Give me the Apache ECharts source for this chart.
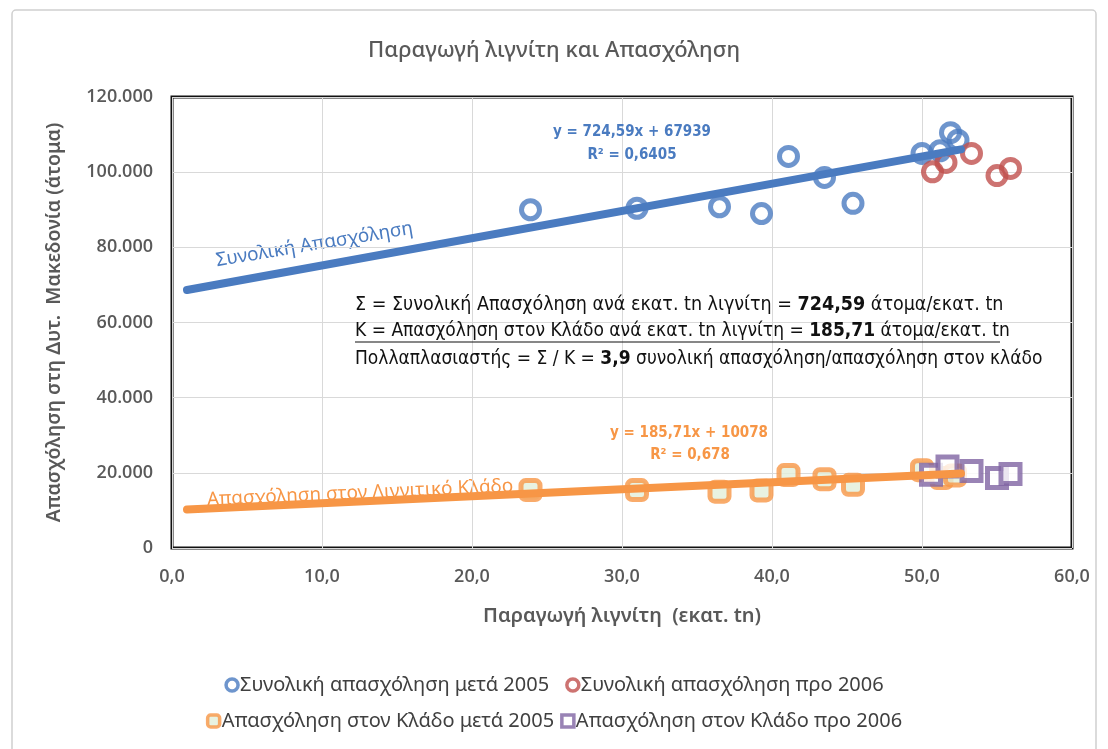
<!DOCTYPE html>
<html>
<head>
<meta charset="utf-8">
<script src="https://cdn.jsdelivr.net/npm/echarts@6/dist/echarts.min.js"></script>
<style>
  html, body { margin: 0; padding: 0; background: #fff; }
  #chart { width: 1108px; height: 749px; }
</style>
</head>
<body>
<div id="chart"></div>
<script>
// Συνολική απασχόληση (κύκλοι) - [παραγωγή εκατ. tn, άτομα]
var totalAfter2005 = [
  [23.9, 90000], [31.0, 90400], [36.5, 90800], [39.3, 89000], [41.1, 104200],
  [43.5, 98600], [45.4, 91700], [50.0, 105000], [51.2, 105700], [51.9, 110500], [52.4, 108500]
];
var totalBefore2006 = [
  [50.7, 100100], [51.6, 102600], [53.3, 105000], [55.0, 99100], [55.9, 101000]
];
// Απασχόληση στον κλάδο (τετράγωνα)
var sectorAfter2005 = [
  [23.9, 15400], [31.0, 15400], [36.5, 15000], [39.3, 15300], [41.1, 19400],
  [43.5, 18300], [45.4, 16800], [50.0, 20700], [51.3, 18600], [52.2, 19300]
];
var sectorBefore2006 = [
  [50.6, 19500], [51.7, 21700], [53.3, 20500], [55.0, 18600], [55.9, 19700]
];
// γραμμές τάσης (άκρα)
var trendTotal = [[1, 68660], [52.6, 106050]];
var trendSector = [[1, 10260], [52.6, 19850]];

var xTicks = [0, 10, 20, 30, 40, 50, 60];
var yTicks = [0, 20000, 40000, 60000, 80000, 100000, 120000];

var seriesNames = [
  'Συνολική απασχόληση μετά 2005',
  'Συνολική απασχόληση προ 2006',
  'Απασχόληση στον Κλάδο μετά 2005',
  'Απασχόληση στον Κλάδο προ 2006'
];

var BLUE = '#4a7bc0', RED = '#c0504d', ORANGE = '#f79646', PURPLE = '#8064a2';
var GRAY = '#595959';
var NARROW = "'Liberation Sans Narrow', 'DejaVu Sans Condensed', sans-serif";

var myChart = echarts.init(document.getElementById('chart'));

myChart.setOption({
  backgroundColor: '#fff',
  animation: false,
  title: {
    text: 'Παραγωγή λιγνίτη και Απασχόληση',
    left: 'center',
    top: 35,
    textStyle: { fontFamily: 'Noto Sans', fontSize: 22, fontWeight: 500, color: GRAY }
  },
  legend: [
    {
      data: [seriesNames[0], seriesNames[1]],
      left: 'center', top: 670, itemGap: 16,
      itemWidth: 12, itemHeight: 12,
      itemStyle: { borderWidth: 3.5 },
      textStyle: { fontFamily: 'Noto Sans', fontSize: 20, color: '#404040', padding: [0, 0, 0, -3] }
    },
    {
      data: [seriesNames[2], seriesNames[3]],
      left: 'center', top: 706, itemGap: 6,
      itemWidth: 12, itemHeight: 12,
      itemStyle: { borderWidth: 3.5 },
      textStyle: { fontFamily: 'Noto Sans', fontSize: 20, color: '#404040', padding: [0, 0, 0, -3] }
    }
  ],
  grid: {
    left: 172, top: 97, right: 36, bottom: 201,
    show: true, borderColor: '#111', borderWidth: 3
  },
  xAxis: {
    type: 'value', min: xTicks[0], max: xTicks[xTicks.length - 1], interval: 10,
    name: 'Παραγωγή λιγνίτη  (εκατ. tn)',
    nameLocation: 'middle', nameGap: 58,
    nameTextStyle: { fontFamily: 'Noto Sans', fontSize: 20, fontWeight: 600, color: GRAY },
    axisLine: { show: false }, axisTick: { show: false },
    axisLabel: {
      margin: 20, fontFamily: 'Open Sans', fontSize: 18, fontWeight: 600, color: GRAY,
      formatter: function (v) { return v.toFixed(1).replace('.', ','); }
    },
    splitLine: { lineStyle: { color: '#d9d9d9', width: 1 } }
  },
  yAxis: {
    type: 'value', min: yTicks[0], max: yTicks[yTicks.length - 1], interval: 20000,
    name: 'Απασχόληση στη Δυτ.  Μακεδονία (άτομα)',
    nameLocation: 'middle', nameGap: 108, nameRotate: 90,
    nameTextStyle: { fontFamily: 'Noto Sans', fontSize: 19.5, fontWeight: 600, color: GRAY },
    axisLine: { show: false }, axisTick: { show: false },
    axisLabel: {
      margin: 19, fontFamily: 'Open Sans', fontSize: 18, fontWeight: 600, color: GRAY,
      formatter: function (v) { return v === 0 ? '0' : (v / 1000) + '.000'; }
    },
    splitLine: { lineStyle: { color: '#d9d9d9', width: 1 } }
  },
  graphic: [
    { type: 'rect', z: -10, shape: { x: 12, y: 10, width: 1084, height: 760, r: 4 },
      style: { fill: 'none', stroke: '#d0d0d0', lineWidth: 1.5 } },
    // ετικέτες γραμμών τάσης
    { type: 'text', x: 216, y: 261, rotation: 0.165, z: 0,
      style: { text: 'Συνολική Απασχόληση', fill: BLUE, font: '19px "Noto Sans"', verticalAlign: 'middle' } },
    { type: 'text', x: 207, y: 500, rotation: 0.045, z: 0,
      style: { text: 'Απασχόληση στον Λιγνιτικό Κλάδο', fill: ORANGE, font: '19px "Noto Sans"', verticalAlign: 'middle' } },
    // εξισώσεις
    { type: 'text', x: 632, y: 132, z: 10,
      style: { text: 'y = 724,59x + 67939', fill: BLUE, font: 'bold 15px ' + NARROW, align: 'center', verticalAlign: 'middle' } },
    { type: 'text', x: 632, y: 155, z: 10,
      style: { text: 'R² = 0,6405', fill: BLUE, font: 'bold 15px ' + NARROW, align: 'center', verticalAlign: 'middle' } },
    { type: 'text', x: 689, y: 433, z: 10,
      style: { text: 'y = 185,71x + 10078', fill: ORANGE, font: 'bold 15px ' + NARROW, align: 'center', verticalAlign: 'middle' } },
    { type: 'text', x: 690, y: 455, z: 10,
      style: { text: 'R² = 0,678', fill: ORANGE, font: 'bold 15px ' + NARROW, align: 'center', verticalAlign: 'middle' } },
    // πλαίσιο κειμένου
    { type: 'text', x: 355, y: 305, z: 10,
      style: {
        text: 'Σ = Συνολική Απασχόληση ανά εκατ. tn λιγνίτη = {b|724,59} άτομα/εκατ. tn',
        font: '19.5px ' + NARROW, fill: '#111', verticalAlign: 'middle',
        rich: { b: { fontWeight: 'bold', fontSize: 19.5, fontFamily: NARROW, fill: '#111' } }
      } },
    { type: 'text', x: 355, y: 331, z: 10,
      style: {
        text: 'Κ = Απασχόληση στον Κλάδο ανά εκατ. tn λιγνίτη = {b|185,71} άτομα/εκατ. tn',
        font: '19px ' + NARROW, fill: '#111', verticalAlign: 'middle',
        rich: { b: { fontWeight: 'bold', fontSize: 19, fontFamily: NARROW, fill: '#111' } }
      } },
    { type: 'line', z: 10, shape: { x1: 355, y1: 342, x2: 1000, y2: 342 },
      style: { stroke: '#111', lineWidth: 1.2 } },
    { type: 'text', x: 355, y: 359, z: 10,
      style: {
        text: 'Πολλαπλασιαστής = Σ / Κ = {b|3,9} συνολική απασχόληση/απασχόληση στον κλάδο',
        font: '19px ' + NARROW, fill: '#111', verticalAlign: 'middle',
        rich: { b: { fontWeight: 'bold', fontSize: 19, fontFamily: NARROW, fill: '#111' } }
      } }
  ],
  series: [
    {
      name: seriesNames[0], type: 'scatter', data: totalAfter2005, z: 2,
      symbol: 'circle', symbolSize: 18,
      itemStyle: { color: 'rgba(255,255,255,0)', borderColor: BLUE, borderWidth: 5 }
    },
    {
      name: seriesNames[1], type: 'scatter', data: totalBefore2006, z: 2,
      symbol: 'circle', symbolSize: 18,
      itemStyle: { color: 'rgba(255,255,255,0)', borderColor: RED, borderWidth: 5 }
    },
    {
      name: seriesNames[2], type: 'scatter', data: sectorAfter2005, z: 2,
      symbol: 'roundRect', symbolSize: 19,
      itemStyle: { color: '#e2efda', borderColor: ORANGE, borderWidth: 5 }
    },
    {
      name: seriesNames[3], type: 'scatter', data: sectorBefore2006, z: 2,
      symbol: 'rect', symbolSize: 19,
      itemStyle: { color: '#fff', borderColor: PURPLE, borderWidth: 5 }
    },
    {
      name: 'trendTotal', type: 'line', data: trendTotal, z: 3,
      showSymbol: false, silent: true,
      lineStyle: { color: BLUE, width: 8, cap: 'round' }
    },
    {
      name: 'trendSector', type: 'line', data: trendSector, z: 3,
      showSymbol: false, silent: true,
      lineStyle: { color: ORANGE, width: 8, cap: 'round' }
    }
  ]
});
</script>
</body>
</html>
